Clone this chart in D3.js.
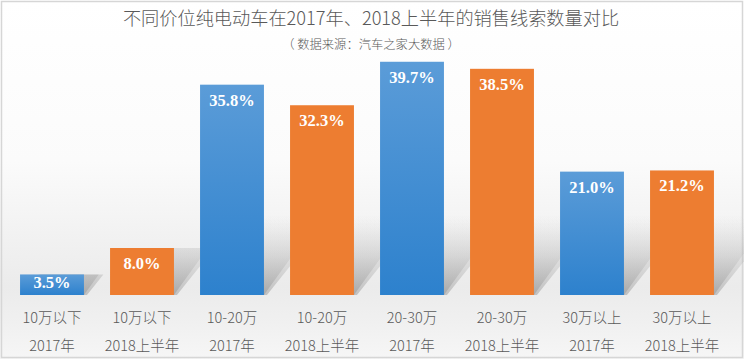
<!DOCTYPE html>
<html><head><meta charset="utf-8">
<script src="https://cdn.jsdelivr.net/npm/d3@7/dist/d3.min.js"></script>
<style>html,body{margin:0;padding:0;background:#fff;}svg{display:block;}</style>
</head><body><div id="chart"></div>
<script>
const categories = ["10万以下","10万以下","10-20万","10-20万","20-30万","20-30万","30万以上","30万以上"];
const periods = ["2017年","2018上半年","2017年","2018上半年","2017年","2018上半年","2017年","2018上半年"];
const values = [3.5, 8.0, 35.8, 32.3, 39.7, 38.5, 21.0, 21.2];
const series = ["2017","2018H1","2017","2018H1","2017","2018H1","2017","2018H1"];
const title = "不同价位纯电动车在2017年、2018上半年的销售线索数量对比";
const subtitle = "（ 数据来源：汽车之家大数据 ）";

const W = 744, H = 359;
const svg = d3.select("#chart").append("svg").attr("width", W).attr("height", H);
const defs = svg.append("defs");

const bg = defs.append("linearGradient").attr("id","bg").attr("x1",0).attr("y1",0).attr("x2",0).attr("y2",1);
[[0,"#ffffff"],[0.45,"#fbfbfb"],[0.8,"#ebebeb"],[0.9,"#f0f0f0"],[1,"#f6f6f6"]].forEach(([o,c])=>bg.append("stop").attr("offset",o).attr("stop-color",c));

const blue = defs.append("linearGradient").attr("id","blue").attr("x1",0).attr("y1",0).attr("x2",0).attr("y2",1);
blue.append("stop").attr("offset",0).attr("stop-color","#5b9cd8");
blue.append("stop").attr("offset",1).attr("stop-color","#2d81cd");

const sh = defs.append("linearGradient").attr("id","shadowGrad").attr("gradientUnits","userSpaceOnUse")
  .attr("x1",0).attr("y1",295).attr("x2",0).attr("y2",215);
sh.append("stop").attr("offset","0%").attr("stop-color","#8c8c8c").attr("stop-opacity",0.45);
sh.append("stop").attr("offset","50%").attr("stop-color","#aaaaaa").attr("stop-opacity",0.2);
sh.append("stop").attr("offset","100%").attr("stop-color","#cccccc").attr("stop-opacity",0);

svg.append("rect").attr("x",0).attr("y",0).attr("width",W).attr("height",H).attr("fill","url(#bg)");
svg.append("rect").attr("x",1.5).attr("y",1.5).attr("width",W-3).attr("height",H-3)
  .attr("fill","none").attr("stroke","#d6d6d6").attr("stroke-width",1.5);

const x = d3.scaleBand().domain(d3.range(values.length)).range([7, 727]).paddingInner(0.29).paddingOuter(0.145);
const y = d3.scaleLinear().domain([0, 40]).range([295, 60]);

svg.append("text").attr("x",371).attr("y",25).attr("text-anchor","middle")
  .attr("font-family","'Noto Sans CJK SC', sans-serif").attr("font-weight",300).attr("font-size",18.2).attr("fill","#595959").text(title);
svg.append("text").attr("x",371).attr("y",49).attr("text-anchor","middle")
  .attr("font-family","'Noto Sans CJK SC', sans-serif").attr("font-weight",300).attr("font-size",12.3).attr("fill","#595959").text(subtitle);

// soft shadow: two layered sheared copies
[[0.72, 0], [0.8, 3]].forEach(([k, dx]) => {
  svg.append("g").attr("class","shadows").selectAll("path").data(values).join("path")
    .attr("d",(d,i)=>{
      const x0 = x(i)+4, x1 = x(i)+x.bandwidth()+dx, b = y(0), t = y(d), h = b - t;
      return `M${x0},${b}L${x1},${b}L${x1+k*h},${t}L${x0+k*h},${t}Z`;
    })
    .style("fill","url(#shadowGrad)");
});

svg.append("g").selectAll("rect").data(values).join("rect")
  .attr("x",(d,i)=>x(i)).attr("y",d=>y(d)).attr("width",x.bandwidth()).attr("height",d=>y(0)-y(d))
  .attr("fill",(d,i)=>series[i]==="2017" ? "url(#blue)" : "#ed7d31");

svg.append("g").selectAll("text").data(values).join("text")
  .attr("x",(d,i)=>x(i)+x.bandwidth()/2)
  .attr("y",d=>Math.min(y(d)+21, y(0)-7))
  .attr("text-anchor","middle")
  .attr("font-family","'Liberation Serif','DejaVu Serif',serif").attr("font-weight","bold")
  .attr("font-size",16.5).attr("fill","#ffffff")
  .text(d=>d.toFixed(1)+"%");

const lab = svg.append("g").attr("font-family","'Noto Sans CJK SC', sans-serif").attr("font-weight",300).attr("font-size",14.5).attr("fill","#595959").attr("text-anchor","middle");
lab.selectAll("text.c").data(categories).join("text").attr("class","c")
  .attr("x",(d,i)=>x(i)+x.bandwidth()/2).attr("y",323).text(d=>d);
lab.selectAll("text.p").data(periods).join("text").attr("class","p")
  .attr("x",(d,i)=>x(i)+x.bandwidth()/2).attr("y",351).text(d=>d);
</script></body></html>
